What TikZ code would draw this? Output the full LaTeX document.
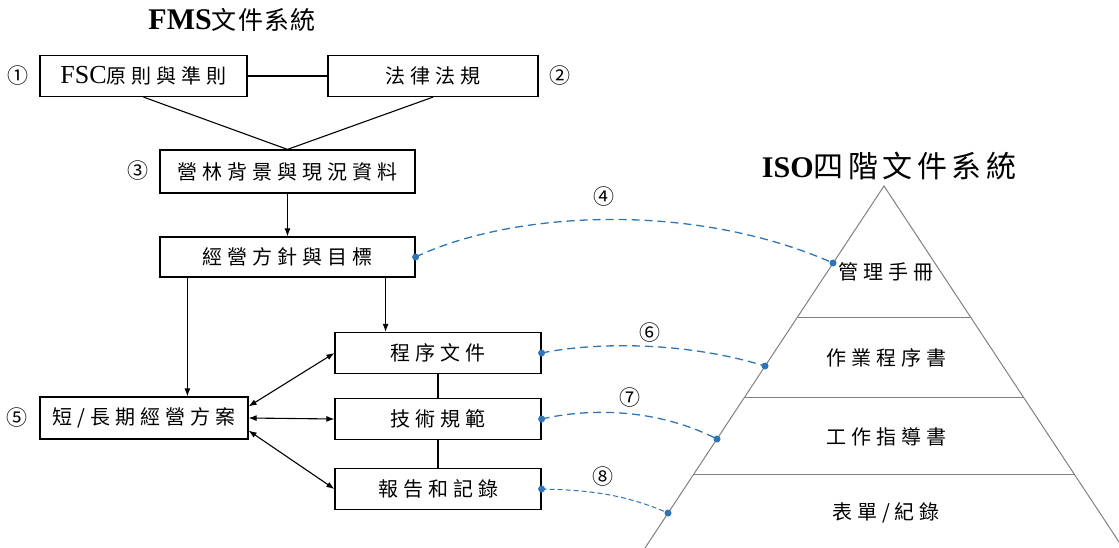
\documentclass[tikz,border=0pt]{standalone}
\usepackage{fontspec}
\setmainfont{Liberation Serif}
\newfontfamily\cjk[LetterSpace=25]{Noto Sans CJK TC}
\newfontfamily\cjktitle[LetterSpace=5]{Noto Sans CJK TC}
\newfontfamily\cjkwide[LetterSpace=15]{Noto Sans CJK TC}
\newfontfamily\cjknum{Noto Sans CJK TC}
\usetikzlibrary{arrows.meta}
\definecolor{linkblue}{RGB}{46,117,182}
\definecolor{pyrgray}{RGB}{128,128,128}
\tikzset{
  >={Latex[length=8pt,width=6pt]},
  docbox/.style={draw, line width=1.2pt, inner sep=0pt,
    font=\fontsize{20}{24}\selectfont},
  pyrtext/.style={font=\cjk\fontsize{20}{24}\selectfont},
  numlabel/.style={font=\cjknum\fontsize{21}{24}\selectfont},
  headline/.style={font=\bfseries\fontsize{30}{34}\selectfont},
  link/.style={draw=linkblue, line width=1.3pt, dash pattern=on 8pt off 5pt},
  dot/.style={fill=linkblue},
  pyr/.style={draw=pyrgray, line width=1pt},
}
\begin{document}
\begin{tikzpicture}[x=1pt, y=-1pt, line width=1.1pt]
    \useasboundingbox (0,0) rectangle (1119,548);
    \clip (0,0) rectangle (1119,548);
    % titles
    \node[headline] (t-fms) at (232,20) {FMS{\mdseries\cjktitle\fontsize{25}{28}\selectfont 文件系統}};
    \node[headline] (t-iso) at (889,166) {ISO{\mdseries\cjkwide\fontsize{30}{34}\selectfont 四階文件系統}};
    % FMS boxes
    \node[docbox, minimum width=207pt, minimum height=41pt] (fsc) at (143.5,76) {{\fontsize{26}{28}\selectfont FSC}{\cjk 原則與準則}};
    \node[docbox, minimum width=210pt, minimum height=41pt] (law) at (433,76) {\cjk 法律法規};
    \node[docbox, minimum width=255pt, minimum height=43pt] (bg) at (287.5,171.5) {\cjk 營林背景與現況資料};
    \node[docbox, minimum width=255pt, minimum height=40pt] (aim) at (287.5,257) {\cjk 經營方針與目標};
    \node[docbox, minimum width=208pt, minimum height=42pt] (plan) at (144,418) {\cjk 短/長期經營方案};
    \foreach \lname/\ly/\ltext in {proc/353/程序文件, tech/419/技術規範, rec/489/報告和記錄} {
        \node[docbox, minimum width=206pt, minimum height=41pt] (\lname) at (438,\ly) {\cjk \ltext};
    }
    % numbers
    \node[numlabel] (num-1) at (18,76) {①};
    \node[numlabel] (num-2) at (560,76) {②};
    \node[numlabel] (num-3) at (138,171) {③};
    \node[numlabel] (num-4) at (604,197) {④};
    \node[numlabel] (num-5) at (17,418) {⑤};
    \node[numlabel] (num-6) at (650,333) {⑥};
    \node[numlabel] (num-7) at (630,398) {⑦};
    \node[numlabel] (num-8) at (603,477) {⑧};
    % FMS connectors
    \draw (fsc) -- (law);
    \draw (fsc.south) -- (bg.north);
    \draw (law.south) -- (bg.north);
    \draw[->] (bg) -- (aim);
    \draw[->] ([xshift=28pt]aim.south west) -- ([xshift=28pt]aim.south west |- plan.north);
    \draw[->] ([xshift=-30pt]aim.south east) -- ([xshift=-30pt]aim.south east |- proc.north);
    \draw (proc) -- (tech);
    \draw (tech) -- (rec);
    \draw[<->] ([yshift=-10pt]plan.north east) -- (proc.west);
    \draw[<->] (plan.east) -- (tech.west);
    \draw[<->] ([yshift=9pt]plan.south east) -- (rec.west);
    % pyramid
    \draw[pyr] (645,548) -- (884,186) -- (1123,548);
    \foreach \ly in {317,397,474} {
        \pgfmathsetmacro\ldx{0.66*(\ly-186)}
        \draw[pyr] (884-\ldx,\ly) -- (884+\ldx,\ly);
    }
    \foreach[count=\i] \ly/\ltext in {272/管理手冊, 358/作業程序書, 437/工作指導書, 513/{表單/紀錄}} {
        \node[pyrtext] (lvl-\i) at (886,\ly) {\ltext};
    }
    \coordinate (e-4) at (833,263);
    \coordinate (e-6) at (765,366);
    \coordinate (e-7) at (717,439);
    \coordinate (e-8) at (668,513);
    % dashed links
    \draw[link] (aim.east) .. controls (510,212) and (690,200) .. (e-4);
    \draw[link] (proc.east) .. controls (590,343) and (680,340) .. (e-6);
    \draw[link] (tech.east) .. controls (580,410) and (650,405) .. (e-7);
    \draw[link, line width=1pt, dash pattern=on 5pt off 3pt] (rec.east) .. controls (580,490) and (620,492) .. (e-8);
    \foreach \la/\lb in {aim/e-4, proc/e-6, tech/e-7, rec/e-8} {
        \fill[dot] (\la.east) circle (3.5pt);
        \fill[dot] (\lb) circle (3.5pt);
    }
\end{tikzpicture}
\end{document}
